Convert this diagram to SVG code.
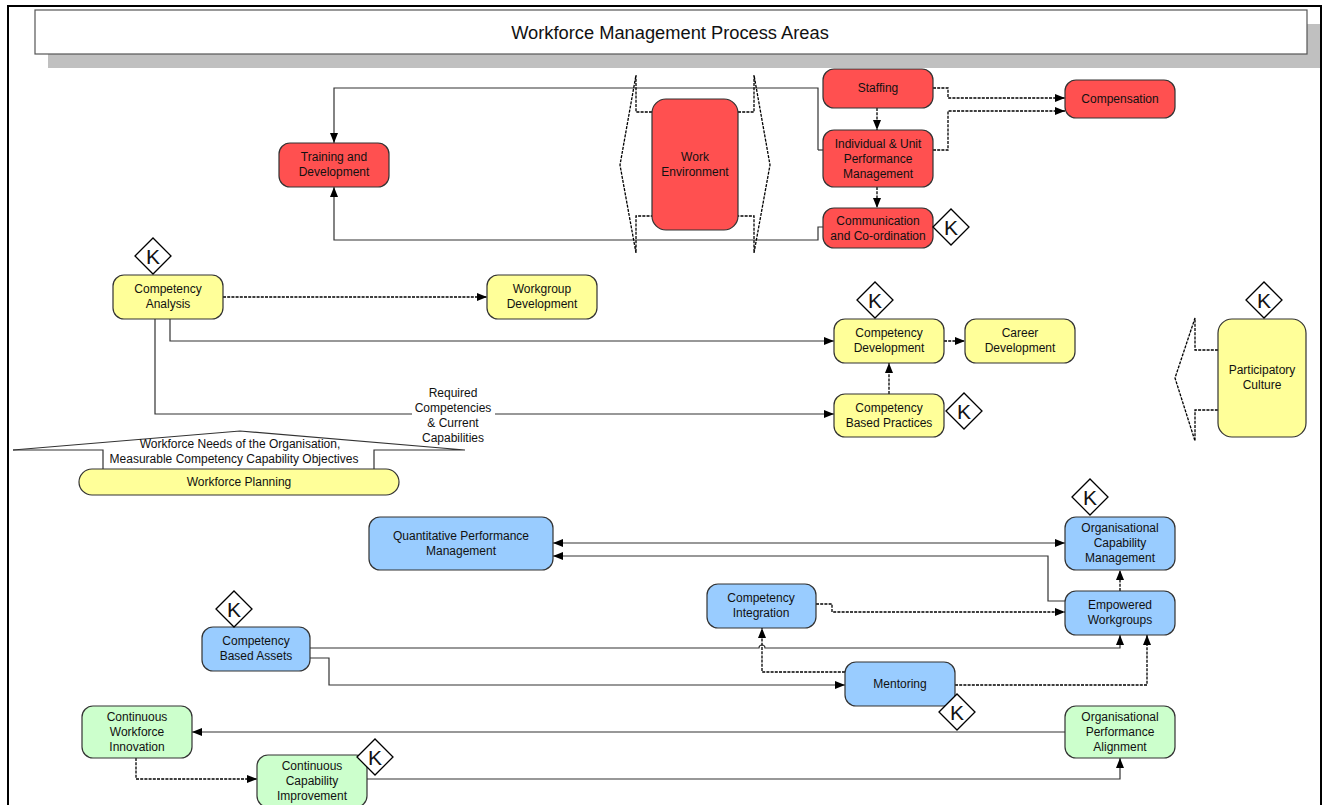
<svg xmlns="http://www.w3.org/2000/svg" width="1327" height="805" viewBox="0 0 1327 805">
<style>
text{font-family:"Liberation Sans",Arial,sans-serif;fill:#111;text-anchor:middle}
.t{font-size:12px}
.k{font-size:21px}
.n{stroke:#333;stroke-width:1.2}
.red{fill:#ff5050}
.yel{fill:#ffff99}
.blu{fill:#99ccff}
.grn{fill:#ccffcc}
.c{fill:none;stroke:#333;stroke-width:1.2}
.d{fill:none;stroke:#000;stroke-width:1.3;stroke-dasharray:3,1.2}
.dia{fill:#fff;stroke:#000;stroke-width:1.3}
</style>
<defs>
<marker id="a" viewBox="0 0 10 10" refX="10" refY="5" markerWidth="10" markerHeight="10" markerUnits="userSpaceOnUse" orient="auto-start-reverse">
<path d="M0,1 L10,5 L0,9 Z" fill="#000"/>
</marker>
<g id="kd"><path class="dia" d="M-18,0 L0,-18 L18,0 L0,18 Z"/><text class="k" y="7.5">K</text></g>
</defs>
<rect x="0" y="0" width="1327" height="805" fill="#fff"/>
<rect x="8" y="6" width="1313" height="820" fill="none" stroke="#000" stroke-width="2"/>
<g id="title">
<rect x="48" y="24" width="1272" height="44" fill="#c0c0c0"/>
<rect x="35" y="10" width="1272" height="44" fill="#fff" stroke="#555" stroke-width="1.2"/>
<text x="670" y="39" style="font-size:18.3px">Workforce Management Process Areas</text>
</g>
<g id="connectors">
<path class="c" d="M818,150 L818,88 L334,88 L334,143" marker-end="url(#a)"/>
<path class="c" d="M823,150 L818,150"/>
<path class="c" d="M823,227 L818,227 L818,240 L334,240 L334,187" marker-end="url(#a)"/>
<path class="d" d="M877,108 L877,130" marker-end="url(#a)"/>
<path class="d" d="M877,187 L877,208" marker-end="url(#a)"/>
<path class="d" d="M933,88 L948,88 L948,98 L1065,98" marker-end="url(#a)"/>
<path class="d" d="M933,150 L948,150 L948,111 L1065,111" marker-end="url(#a)"/>
<path class="d" d="M652,112 L636,112 L636,75 L620,165 L636,253 L636,216 L652,216"/>
<path class="d" d="M738,112 L754,112 L754,75 L770,165 L754,253 L754,216 L738,216"/>
<path class="d" d="M223,297 L487,297" marker-end="url(#a)"/>
<path class="c" d="M170,319 L170,341 L834,341" marker-end="url(#a)"/>
<path class="c" d="M155,319 L155,414 L834,414" marker-end="url(#a)"/>
<rect x="412" y="384" width="83" height="60" fill="#fff"/>
<path class="d" d="M889,394 L889,363" marker-end="url(#a)"/>
<path class="d" d="M944,341 L965,341" marker-end="url(#a)"/>
<path class="d" d="M1218,350 L1195,350 L1195,318 L1175,378 L1195,441 L1195,410 L1218,410"/>
<path class="c" d="M13,450 L240,431 L465,450 L374,450 L374,469"/>
<path class="c" d="M13,450 L103,450 L103,469"/>
<path class="c" d="M553,543 L1065,543" marker-start="url(#a)" marker-end="url(#a)"/>
<path class="c" d="M1065,601 L1048,601 L1048,556 L553,556" marker-end="url(#a)"/>
<path class="d" d="M1120,591 L1120,570" marker-end="url(#a)"/>
<path class="d" d="M816,604 L832,604 L832,612 L1065,612" marker-end="url(#a)"/>
<path class="c" d="M310,648 L759,648 A3,3 0 0 1 765,648 L1120,648 L1120,635" marker-end="url(#a)"/>
<path class="c" d="M310,658 L329,658 L329,685 L845,685" marker-end="url(#a)"/>
<path class="d" d="M845,672 L762,672 L762,628" marker-end="url(#a)"/>
<path class="d" d="M955,685 L1147,685 L1147,635" marker-end="url(#a)"/>
<path class="c" d="M1065,732 L192,732" marker-end="url(#a)"/>
<path class="d" d="M136,758 L136,779 L257,779" marker-end="url(#a)"/>
<path class="c" d="M367,779 L1120,779 L1120,758" marker-end="url(#a)"/>
</g>
<g id="label-req"><text class="t" x="453" y="397">Required</text><text class="t" x="453" y="412">Competencies</text><text class="t" x="453" y="427">&amp; Current</text><text class="t" x="453" y="442">Capabilities</text></g>
<g id="label-wp"><text class="t" x="240" y="448">Workforce Needs of the Organisation,</text><text class="t" x="234" y="463">Measurable Competency Capability Objectives</text></g>
<g id="staffing"><rect class="n red" x="823" y="69" width="110" height="39" rx="11"/><text class="t" x="878" y="92">Staffing</text></g>
<g id="compensation"><rect class="n red" x="1065" y="80" width="110" height="38" rx="11"/><text class="t" x="1120" y="103">Compensation</text></g>
<g id="individual"><rect class="n red" x="823" y="130" width="110" height="57" rx="11"/><text class="t" x="878" y="148">Individual &amp; Unit</text><text class="t" x="878" y="163">Performance</text><text class="t" x="878" y="178">Management</text></g>
<g id="communication"><rect class="n red" x="823" y="208" width="110" height="40" rx="11"/><text class="t" x="878" y="225">Communication</text><text class="t" x="878" y="240">and Co-ordination</text><use href="#kd" x="951" y="227"/></g>
<g id="training"><rect class="n red" x="279" y="143" width="110" height="44" rx="11"/><text class="t" x="334" y="161">Training and</text><text class="t" x="334" y="176">Development</text></g>
<g id="workenv"><rect class="n red" x="652" y="99" width="86" height="131" rx="14"/><text class="t" x="695" y="161">Work</text><text class="t" x="695" y="176">Environment</text></g>
<g id="comp-analysis"><rect class="n yel" x="113" y="275" width="110" height="44" rx="11"/><text class="t" x="168" y="293">Competency</text><text class="t" x="168" y="308">Analysis</text><use href="#kd" x="153" y="256"/></g>
<g id="workgroup"><rect class="n yel" x="487" y="275" width="110" height="44" rx="11"/><text class="t" x="542" y="293">Workgroup</text><text class="t" x="542" y="308">Development</text></g>
<g id="comp-dev"><rect class="n yel" x="834" y="319" width="110" height="44" rx="11"/><text class="t" x="889" y="337">Competency</text><text class="t" x="889" y="352">Development</text><use href="#kd" x="875" y="300"/></g>
<g id="career"><rect class="n yel" x="965" y="319" width="110" height="44" rx="11"/><text class="t" x="1020" y="337">Career</text><text class="t" x="1020" y="352">Development</text></g>
<g id="cbp"><rect class="n yel" x="834" y="394" width="110" height="43" rx="11"/><text class="t" x="889" y="412">Competency</text><text class="t" x="889" y="427">Based Practices</text><use href="#kd" x="964" y="411"/></g>
<g id="participatory"><rect class="n yel" x="1218" y="319" width="88" height="118" rx="14"/><text class="t" x="1262" y="374">Participatory</text><text class="t" x="1262" y="389">Culture</text><use href="#kd" x="1264" y="300"/></g>
<g id="wplanning"><rect class="n yel" x="79" y="469" width="320" height="26" rx="13"/><text class="t" x="239" y="486">Workforce Planning</text></g>
<g id="qpm"><rect class="n blu" x="369" y="517" width="184" height="53" rx="11"/><text class="t" x="461" y="540">Quantitative Performance</text><text class="t" x="461" y="555">Management</text></g>
<g id="ocm"><rect class="n blu" x="1065" y="517" width="110" height="53" rx="11"/><text class="t" x="1120" y="532">Organisational</text><text class="t" x="1120" y="547">Capability</text><text class="t" x="1120" y="562">Management</text><use href="#kd" x="1090" y="497"/></g>
<g id="ci"><rect class="n blu" x="707" y="584" width="109" height="44" rx="11"/><text class="t" x="761" y="602">Competency</text><text class="t" x="761" y="617">Integration</text></g>
<g id="ew"><rect class="n blu" x="1065" y="591" width="110" height="44" rx="11"/><text class="t" x="1120" y="609">Empowered</text><text class="t" x="1120" y="624">Workgroups</text></g>
<g id="cba"><rect class="n blu" x="202" y="627" width="108" height="44" rx="11"/><text class="t" x="256" y="645">Competency</text><text class="t" x="256" y="660">Based Assets</text><use href="#kd" x="234" y="609"/></g>
<g id="mentoring"><rect class="n blu" x="845" y="662" width="110" height="44" rx="11"/><text class="t" x="900" y="688">Mentoring</text><use href="#kd" x="957" y="712"/></g>
<g id="cwi"><rect class="n grn" x="82" y="706" width="110" height="52" rx="11"/><text class="t" x="137" y="721">Continuous</text><text class="t" x="137" y="736">Workforce</text><text class="t" x="137" y="751">Innovation</text></g>
<g id="cci"><rect class="n grn" x="257" y="755" width="110" height="52" rx="11"/><text class="t" x="312" y="770">Continuous</text><text class="t" x="312" y="785">Capability</text><text class="t" x="312" y="800">Improvement</text><use href="#kd" x="375" y="757"/></g>
<g id="opa"><rect class="n grn" x="1065" y="706" width="110" height="52" rx="11"/><text class="t" x="1120" y="721">Organisational</text><text class="t" x="1120" y="736">Performance</text><text class="t" x="1120" y="751">Alignment</text></g>
</svg>
